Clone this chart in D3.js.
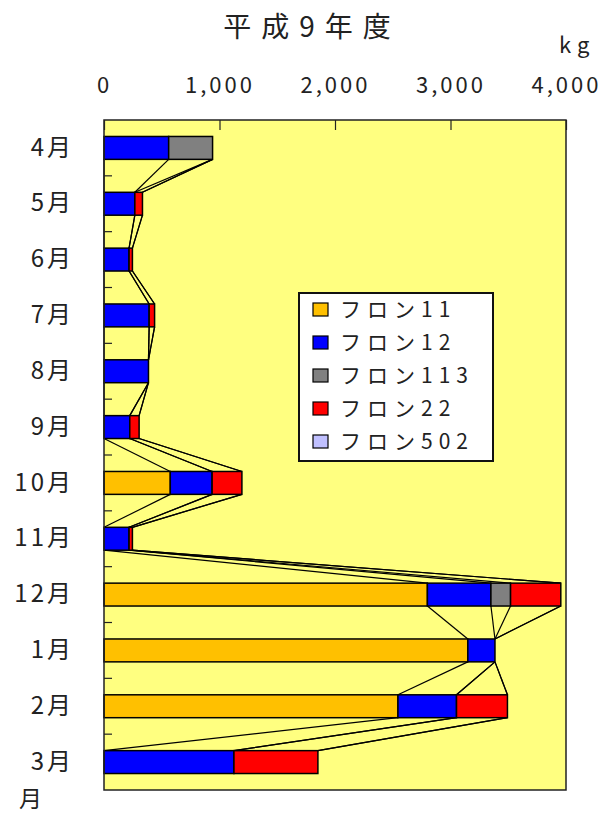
<!DOCTYPE html>
<html>
<head>
<meta charset="utf-8">
<script src="https://cdn.jsdelivr.net/npm/d3@7"></script>
<style>
  body { margin: 0; background: #fff; }
  text { font-family: "Noto Sans CJK JP", "DejaVu Sans", sans-serif; fill: #222; }
</style>
</head>
<body>
<svg id="chart" width="605" height="816"></svg>
<script>
// 平成9年度 フロン回収量 (kg)
const months = ["4月", "5月", "6月", "7月", "8月", "9月", "10月", "11月", "12月", "1月", "2月", "3月"];
const seriesNames = ["フロン11", "フロン12", "フロン113", "フロン22", "フロン502"];

const freon11  = [0, 0, 0, 0, 0, 0, 574, 0, 2800, 3150, 2545, 0];
const freon12  = [560, 267, 217, 391, 385, 223, 362, 217, 550, 235, 507, 1125];
const freon113 = [380, 0, 0, 0, 0, 0, 0, 0, 170, 0, 0, 0];
const freon22  = [0, 66, 29, 47, 0, 81, 258, 29, 435, 0, 441, 727];
const freon502 = [0, 0, 0, 0, 0, 0, 0, 0, 0, 0, 0, 0];

const xTicks = [0, 1000, 2000, 3000, 4000];

const colores = ["#ffc000", "#0000ff", "#808080", "#ff0000", "#c0c0ff"];

const seriesValues = [freon11, freon12, freon113, freon22, freon502];

const svg = d3.select("#chart");
const plot = { left: 104, top: 120, right: 566, bottom: 790 };

const x = d3.scaleLinear()
    .domain([0, 4000])
    .range([plot.left, plot.right]);

const y = d3.scaleBand()
    .domain(months)
    .range([plot.top, plot.bottom])
    .paddingInner(0.59)
    .paddingOuter(0.295);

// tabla para d3.stack
const tabla = months.map((m, i) => {
    const row = { mes: m };
    seriesNames.forEach((s, k) => row[s] = seriesValues[k][i]);
    return row;
});
const series = d3.stack().keys(seriesNames)(tabla);

// fondo del area
svg.append("rect")
    .attr("x", plot.left)
    .attr("y", plot.top)
    .attr("width", plot.right - plot.left)
    .attr("height", plot.bottom - plot.top)
    .attr("fill", "#ffff80");

// lineas de serie (entre barras)
series.forEach(s => {
    for (let i = 0; i < months.length - 1; i++) {
        svg.append("line")
            .attr("x1", x(s[i][1]))
            .attr("y1", y(months[i]) + y.bandwidth())
            .attr("x2", x(s[i + 1][1]))
            .attr("y2", y(months[i + 1]))
            .attr("stroke", "#000")
            .attr("stroke-width", 1.2);
    }
});

// barras apiladas
svg.selectAll("g.serie")
    .data(series)
    .join("g")
    .attr("class", "serie")
    .attr("fill", (d, i) => colores[i])
    .selectAll("rect")
    .data(d => d.filter(p => p[1] - p[0] > 0))
    .join("rect")
    .attr("x", d => x(d[0]))
    .attr("y", d => y(d.data.mes))
    .attr("width", d => x(d[1]) - x(d[0]))
    .attr("height", y.bandwidth())
    .attr("stroke", "#000")
    .attr("stroke-width", 1.5);

// borde
svg.append("rect")
    .attr("x", plot.left)
    .attr("y", plot.top)
    .attr("width", plot.right - plot.left)
    .attr("height", plot.bottom - plot.top)
    .attr("fill", "none")
    .attr("stroke", "#222")
    .attr("stroke-width", 1.5);

// Eje X (arriba)
const ejeX = svg.append("g")
    .attr("transform", `translate(0,${plot.top})`)
    .call(d3.axisTop(x)
        .tickValues(xTicks)
        .tickFormat(d3.format(","))
        .tickSizeInner(-10)
        .tickSizeOuter(0)
        .tickPadding(27));
ejeX.select(".domain").remove();
ejeX.selectAll("line").attr("stroke", "#222").attr("stroke-width", 1.2);
ejeX.selectAll("text")
    .attr("fill", "#222")
    .style("font-size", "22px")
    .style("letter-spacing", "3px");

// Eje Y (meses)
const ejeY = svg.append("g")
    .attr("transform", `translate(${plot.left},0)`)
    .call(d3.axisLeft(y).tickSize(0).tickPadding(30));
ejeY.select(".domain").remove();
ejeY.selectAll("text")
    .attr("fill", "#222")
    .style("font-size", "24px")
    .style("letter-spacing", "3px");

// marcas entre categorias
const gap = (y.step() - y.bandwidth()) / 2;
months.slice(1).forEach(m => {
    svg.append("line")
        .attr("x1", plot.left)
        .attr("x2", plot.left + 8)
        .attr("y1", y(m) - gap)
        .attr("y2", y(m) - gap)
        .attr("stroke", "#222")
        .attr("stroke-width", 1.2);
});

// titulo y unidades
svg.append("text")
    .attr("x", 312)
    .attr("y", 37)
    .attr("text-anchor", "middle")
    .style("font-size", "28px")
    .style("letter-spacing", "10px")
    .text("平成9年度");

svg.append("text")
    .attr("x", 559)
    .attr("y", 53)
    .style("font-size", "22px")
    .style("letter-spacing", "6px")
    .text("kg");

svg.append("text")
    .attr("x", 19)
    .attr("y", 807)
    .style("font-size", "23px")
    .text("月");

// Leyenda
const leyenda = svg.append("g");
leyenda.append("rect")
    .attr("x", 299)
    .attr("y", 293)
    .attr("width", 194)
    .attr("height", 168)
    .attr("fill", "#fff")
    .attr("stroke", "#111")
    .attr("stroke-width", 2);

seriesNames.forEach((name, i) => {
    const row = leyenda.append("g")
        .attr("transform", `translate(313, ${309 + i * 33})`);
    row.append("rect")
        .attr("x", 0)
        .attr("y", -6)
        .attr("width", 15)
        .attr("height", 13)
        .attr("fill", colores[i])
        .attr("stroke", "#000")
        .attr("stroke-width", 1.2);
    row.append("text")
        .attr("x", 27)
        .attr("y", 8)
        .style("font-size", "21px")
        .style("letter-spacing", "6px")
        .text(name);
});
</script>
</body>
</html>
